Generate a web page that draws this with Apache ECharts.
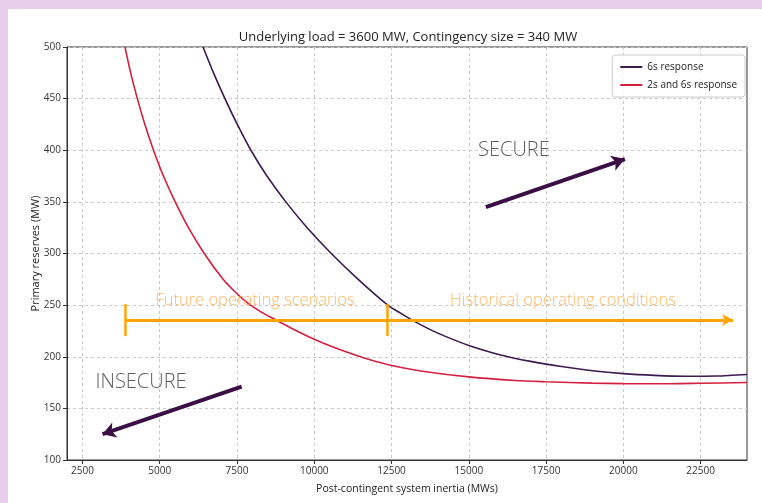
<!DOCTYPE html>
<html><head><meta charset="utf-8">
<script src="https://cdn.jsdelivr.net/npm/echarts@6/dist/echarts.min.js"></script>
<style>
html,body{margin:0;padding:0;background:#e7cdea;width:762px;height:503px;overflow:hidden;}
#panel{position:absolute;left:8px;top:9px;right:0;bottom:0;background:#fff;}
#chart{position:absolute;left:0;top:0;width:762px;height:503px;}
</style></head><body>
<div id="panel"></div><div id="chart"></div>
<script>
const titleText = 'Underlying load = 3600 MW, Contingency size = 340 MW';
const xName = 'Post-contingent system inertia (MWs)';
const yName = 'Primary reserves (MW)';
const xTicks = [2500, 5000, 7500, 10000, 12500, 15000, 17500, 20000, 22500];
const seriesNames = ['6s response', '2s and 6s response'];
const resp6s = [[6400,500],[6740,475],[7110,450],[7510,425],[7950,400],[8470,375],[9080,350],[9770,325],[10550,300],[11420,275],[12380,250],[12800,242],[13200,235],[13700,227],[14300,219],[15000,211],[16000,202],[17000,195.5],[18000,190.5],[19000,186.5],[20000,183.7],[21000,182],[22000,181.1],[23000,181.3],[24000,182.8]];
const resp2s6s = [[3876,500],[4060,475],[4276,450],[4520,425],[4800,400],[5120,375],[5500,350],[5930,325],[6440,300],[7050,275],[7450,262.5],[7850,252],[8250,244],[8700,236.5],[9200,228.5],[9700,221],[10300,213],[11000,205],[11750,197.5],[12500,191.5],[13500,186],[15000,180.5],[16500,177],[17500,175.8],[19000,174.5],[20000,174],[21500,173.9],[22500,174.3],[24000,175]];
// annotations (data coordinates)
const rangeLevel = 235.6;
const rangeStart = 3900, rangeSplit = 12350, rangeEnd = 23550;
const rangeTickSpan = [220, 251];
const secureArrow = [[15550,345],[20050,391.5]];
const insecureArrow = [[7650,171],[3150,125]];
const regionLabels = [['SECURE',16460,400],['INSECURE',4394,175.5]];
const scenarioLabels = [['Future operating scenarios',8082,255],['Historical operating conditions',18046,255]];

const FONT = 'Open Sans';
const orange = '#ffa500', purple = '#3d1a4f', red = '#d3203f', arrowCol = '#3b0f45';

const chart = echarts.init(document.getElementById('chart'), null, {renderer:'canvas'});
chart.setOption({
  animation:false,
  backgroundColor:'transparent',
  textStyle:{fontFamily:FONT},
  title:{text:titleText,left:403,top:26,textAlign:'center',textStyle:{fontFamily:FONT,fontSize:13,fontWeight:'normal',color:'#222'}},
  grid:{left:67,top:47,right:15,bottom:43,show:true,borderColor:'#333',borderWidth:1,backgroundColor:'transparent'},
  legend:{right:17,top:55,orient:'vertical',align:'left',icon:'rect',itemWidth:22,itemHeight:2,itemGap:8,
    padding:[7,8],borderColor:'#ccc',borderWidth:1,borderRadius:3,backgroundColor:'rgba(255,255,255,0.85)',
    textStyle:{fontFamily:FONT,fontSize:10,color:'#222'},data:seriesNames},
  xAxis:{type:'value',min:2000,max:24000,name:xName,nameLocation:'middle',nameGap:24,
    nameTextStyle:{fontFamily:FONT,fontSize:10.5,color:'#222'},
    axisLine:{show:true,lineStyle:{color:'#333',width:1}},
    axisTick:{show:true,length:4,customValues:xTicks,lineStyle:{color:'#333'}},
    axisLabel:{customValues:xTicks,fontSize:10,color:'#333',margin:6,fontFamily:FONT,formatter:v=>String(v)},
    splitLine:{show:true,lineStyle:{color:'#c8c8c8',type:[3,3],width:1}}},
  yAxis:{type:'value',min:100,max:500,interval:50,name:yName,nameLocation:'middle',nameGap:26,nameMoveOverlap:false,
    nameTextStyle:{fontFamily:FONT,fontSize:11,color:'#222'},
    axisLine:{show:true,lineStyle:{color:'#333',width:1}},
    axisTick:{show:true,length:4,lineStyle:{color:'#333'}},
    axisLabel:{fontSize:10,color:'#333',margin:6,fontFamily:FONT,formatter:v=>String(v)},
    splitLine:{show:true,lineStyle:{color:'#c8c8c8',type:[3,3],width:1}}},
  series:[
    {name:seriesNames[0],type:'line',data:resp6s,showSymbol:false,smooth:0.3,lineStyle:{color:purple,width:1.6},itemStyle:{color:purple},z:3},
    {name:seriesNames[1],type:'line',data:resp2s6s,showSymbol:false,smooth:0.3,lineStyle:{color:red,width:1.6},itemStyle:{color:red},z:3},
    {name:'annot',type:'line',data:[],silent:true,z:4,
      markLine:{silent:true,animation:false,label:{show:false},symbol:['none','none'],
        data:[
          [{coord:[rangeStart,rangeLevel],symbol:'none',lineStyle:{color:orange,width:3,type:'solid'}},{coord:[rangeEnd,rangeLevel],symbol:'arrow',symbolSize:[9,11]}],
          [{coord:[rangeStart,rangeTickSpan[0]],lineStyle:{color:orange,width:2.5,type:'solid'}},{coord:[rangeStart,rangeTickSpan[1]]}],
          [{coord:[rangeSplit,rangeTickSpan[0]],lineStyle:{color:orange,width:2.5,type:'solid'}},{coord:[rangeSplit,rangeTickSpan[1]]}],
          [{coord:secureArrow[0],lineStyle:{color:arrowCol,width:4,type:'solid'}},{coord:secureArrow[1],symbol:'arrow',symbolSize:[12,13]}],
          [{coord:insecureArrow[0],lineStyle:{color:arrowCol,width:4,type:'solid'}},{coord:insecureArrow[1],symbol:'arrow',symbolSize:[12,13]}]
        ]}},
    {name:'labels',type:'scatter',silent:true,symbolSize:0,z:5,
      data:regionLabels.map(d=>({name:d[0],value:[d[1],d[2]],label:{show:true,position:'inside',formatter:'{b}',fontFamily:FONT,fontWeight:300,fontSize:20,color:'#333'}}))
        .concat(scenarioLabels.map(d=>({name:d[0],value:[d[1],d[2]],label:{show:true,position:'inside',formatter:'{b}',fontFamily:FONT,fontWeight:300,fontSize:16.5,color:'#ffa640'}})))}
  ]
});
</script></body></html>
